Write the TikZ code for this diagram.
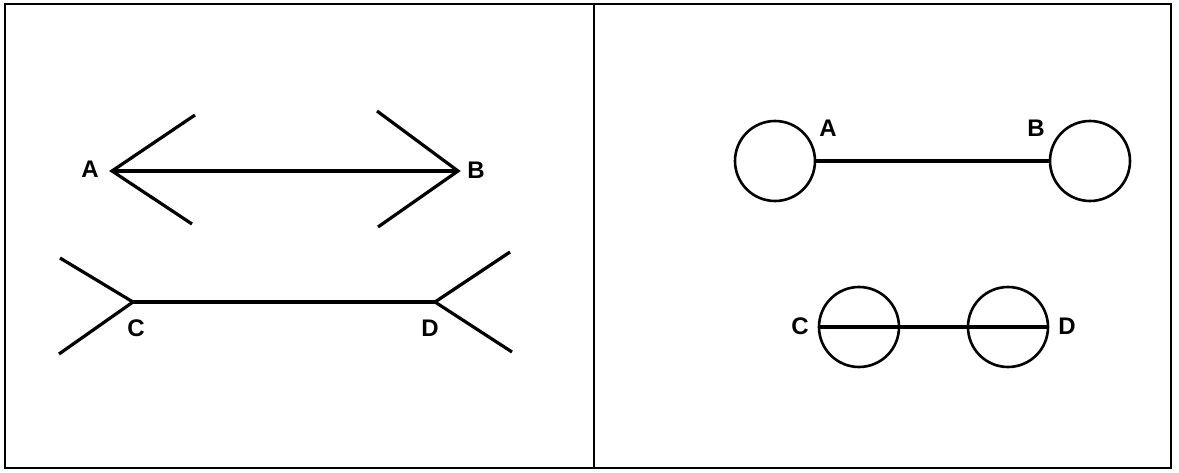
\documentclass[tikz,border=0pt]{standalone}
\usepackage{fontspec}
\setmainfont{Liberation Sans}
\begin{document}
\begin{tikzpicture}[x=1pt,y=-1pt,
  fig/.style={line width=3.2pt, line join=miter, line cap=butt},
  bar/.style={line width=3.2pt, line cap=butt},
  frame/.style={line width=2pt},
  ring/.style={circle, draw, line width=2.6pt, minimum size=80pt, inner sep=0pt, outer sep=0pt},
  lbl/.style={font=\fontsize{24}{28}\selectfont\bfseries, inner sep=0pt}]
\useasboundingbox (0,0) rectangle (1179,473);
% frame and divider
\coordinate (tl) at (5,4);
\coordinate (br) at (1171,468);
\coordinate (dt) at (594,4);
\coordinate (db) at (594,468);
\draw[frame] (tl) rectangle (br);
\draw[frame] (dt) -- (db);

% ---------- left panel ----------
\coordinate (A) at (112,171);
\coordinate (B) at (458,171);
\coordinate (Au) at (195,115);
\coordinate (Ad) at (192,224);
\coordinate (Bu) at (377,111);
\coordinate (Bd) at (378,227);
\draw[fig] (Au) -- (A) -- (Ad);
\draw[fig] (Bu) -- (B) -- (Bd);
\draw[fig, line width=3.6pt] (A) -- (B);
\node[lbl] (lA) at (90,169) {A};
\node[lbl] (lB) at (476,170) {B};

\coordinate (C) at (133,302);
\coordinate (D) at (435,302);
\coordinate (Cu) at (60,258);
\coordinate (Cd) at (59,354);
\coordinate (Du) at (510,252);
\coordinate (Dd) at (512,352);
\draw[fig] (Cu) -- (C) -- (Cd);
\draw[fig] (Du) -- (D) -- (Dd);
\draw[fig] (C) -- (D);
\node[lbl] (lC) at (136,328) {C};
\node[lbl] (lD) at (430,328) {D};

% ---------- right panel ----------
\node[ring] (ra) at (775,161) {};
\node[ring] (rb) at (1090,161) {};
\draw[bar] (ra.east) -- (rb.west);
\node[lbl] (rA) at (828,128) {A};
\node[lbl] (rB) at (1036,128) {B};

\node[ring] (rc) at (859,327) {};
\node[ring] (rd) at (1008,327) {};
\draw[bar] (rc.west) -- (rd.east);
\node[lbl] (rC) at (800,326) {C};
\node[lbl] (rD) at (1067,326) {D};
\end{tikzpicture}
\end{document}
